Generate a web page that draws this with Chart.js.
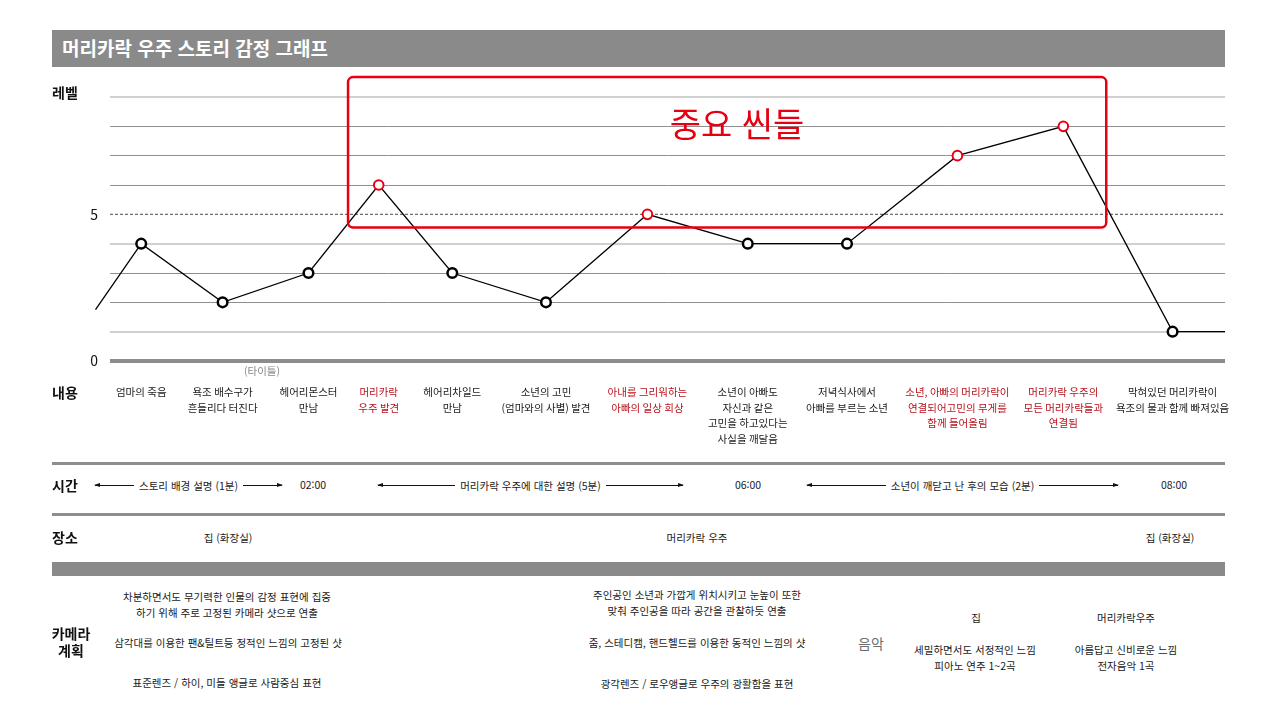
<!DOCTYPE html>
<html lang="ko">
<head>
<meta charset="utf-8">
<title>머리카락 우주 스토리 감정 그래프</title>
<script src="https://cdn.jsdelivr.net/npm/chart.js@4/dist/chart.umd.min.js"></script>
<style>
  html, body { margin: 0; padding: 0; background: #fff; }
  body { width: 1280px; height: 720px; position: relative; overflow: hidden;
         font-family: 'Noto Sans CJK KR', 'Noto Sans', sans-serif; color: #1a1a1a; }
  #chart { position: absolute; left: 0; top: 0; }
  .bar { position: absolute; left: 52px; width: 1173px; background: #8a8a8a; }
  .sep { position: absolute; left: 52px; width: 1173px; height: 3px; background: #8e8e8e; }
  .t { position: absolute; white-space: nowrap; font-size: 10.5px; line-height: 16px; }
  .c { transform: translate(-50%, -50%); text-align: center; }
  .l { transform: translateY(-50%); }
  .head { font-size: 14px; font-weight: bold; color: #111; line-height: 17px; }
  .span { position: absolute; height: 16px; display: flex; align-items: center; transform: translateY(-50%);
          font-size: 10.5px; white-space: nowrap; }
  .span .ln { flex: 1; height: 1px; background: #111; position: relative; }
  .span .ln.a::before { content: ''; position: absolute; left: -1px; top: -2px;
          border-right: 6px solid #111; border-top: 2.5px solid transparent; border-bottom: 2.5px solid transparent; }
  .span .ln.b::after { content: ''; position: absolute; right: -1px; top: -2px;
          border-left: 6px solid #111; border-top: 2.5px solid transparent; border-bottom: 2.5px solid transparent; }
  .span .tx { padding: 0 5px; }
</style>
</head>
<body>

<div class="bar" style="top:30px;height:37px;"></div>
<div class="t" style="left:62px;top:30px;line-height:36px;font-size:19px;font-weight:bold;color:#fff;">머리카락 우주 스토리 감정 그래프</div>

<canvas id="chart" width="1280" height="470"></canvas>

<div class="t l head" style="left:52px;top:92px;">레벨</div>
<div class="t c" style="left:737px;top:123px;font-size:34px;line-height:40px;color:#e60012;">중요 씬들</div>
<div class="t c" style="left:262px;top:371px;color:#888;">(타이틀)</div>

<div class="t l head" style="left:52px;top:392px;">내용</div>
<div class="sep" style="top:462px;"></div>

<div class="t l head" style="left:52px;top:485px;">시간</div>
<div class="span" style="left:95px;width:187px;top:485px;"><span class="ln a"></span><span class="tx">스토리 배경 설명 (1분)</span><span class="ln b"></span></div>
<div class="t c" style="left:313px;top:485px;">02:00</div>
<div class="span" style="left:378px;width:305px;top:485px;"><span class="ln a"></span><span class="tx">머리카락 우주에 대한 설명 (5분)</span><span class="ln b"></span></div>
<div class="t c" style="left:748px;top:485px;">06:00</div>
<div class="span" style="left:807px;width:311px;top:485px;"><span class="ln a"></span><span class="tx">소년이 깨닫고 난 후의 모습 (2분)</span><span class="ln b"></span></div>
<div class="t c" style="left:1174px;top:485px;">08:00</div>
<div class="sep" style="top:513px;"></div>

<div class="t l head" style="left:52px;top:537px;">장소</div>
<div class="t c" style="left:228px;top:538px;">집 (화장실)</div>
<div class="t c" style="left:697px;top:538px;">머리카락 우주</div>
<div class="t c" style="left:1170px;top:538px;">집 (화장실)</div>

<div class="bar" style="top:562px;height:14px;"></div>

<div class="t c head" style="left:71px;top:642px;line-height:17px;">카메라<br>계획</div>

<div class="t c" style="left:227px;top:605px;">차분하면서도 무기력한 인물의 감정 표현에 집중<br>하기 위해 주로 고정된 카메라 샷으로 연출</div>
<div class="t c" style="left:228px;top:643px;">삼각대를 이용한 팬&amp;틸트등 정적인 느낌의 고정된 샷</div>
<div class="t c" style="left:227px;top:683px;">표준렌즈 / 하이, 미들 앵글로 사람중심 표현</div>

<div class="t c" style="left:697px;top:603px;">주인공인 소년과 가깝게 위치시키고 눈높이 또한<br>맞춰 주인공을 따라 공간을 관찰하듯 연출</div>
<div class="t c" style="left:697px;top:643px;">줌, 스테디캠, 핸드헬드를 이용한 동적인 느낌의 샷</div>
<div class="t c" style="left:697px;top:684px;">광각렌즈 / 로우앵글로 우주의 광활함을 표현</div>

<div class="t c" style="left:871px;top:643px;font-size:14px;color:#6e6e6e;">음악</div>
<div class="t c" style="left:976px;top:618px;">집</div>
<div class="t c" style="left:975px;top:658px;">세밀하면서도 서정적인 느낌<br>피아노 연주 1~2곡</div>
<div class="t c" style="left:1126px;top:618px;">머리카락우주</div>
<div class="t c" style="left:1126px;top:658px;">아름답고 신비로운 느낌<br>전자음악 1곡</div>

<script>
// story progress (0~100) of each scene, lead-in and tail included
var sceneX = [-1.3, 2.8, 10.1, 17.8, 24.1, 30.7, 39.1, 48.2, 57.2, 66.1, 76.0, 85.5, 95.3, 100];
// emotion level of each scene
var levels = [1.75, 4, 2, 3, 6, 3, 2, 5, 4, 4, 7, 8, 1, 1];
// important scenes (red)
var keyScene = [false, false, false, false, true, false, false, true, false, false, true, true, false, false];
// real scenes have a marker, lead-in / tail do not
var hasMarker = [false, true, true, true, true, true, true, true, true, true, true, true, true, false];

var contentLabels = [
	["엄마의 죽음"],
	["욕조 배수구가", "흔들리다 터진다"],
	["헤어리몬스터", "만남"],
	["머리카락", "우주 발견"],
	["헤어리차일드", "만남"],
	["소년의 고민", "(엄마와의 사별) 발견"],
	["아내를 그리워하는", "아빠의 일상 회상"],
	["소년이 아빠도", "자신과 같은", "고민을 하고있다는", "사실을 깨달음"],
	["저녁식사에서", "아빠를 부르는 소년"],
	["소년, 아빠의 머리카락이", "연결되어고민의 무게를", "함께 들어올림"],
	["머리카락 우주의", "모든 머리카락들과", "연결됨"],
	["막혀있던 머리카락이", "욕조의 물과 함께 빠져있음"]
];

var yTicks = [0, 1, 2, 3, 4, 5, 6, 7, 8, 9];
var yLabels = {0: "0", 5: "5"};
var midLevel = 5;

// the red "important scenes" frame, in data units
var highlightX = [21.35, 89.35];
var highlightY = [4.55, 9.68];

var RED = '#e60012';
var LABEL_RED = '#b8121c';

Chart.defaults.font.family = "'Noto Sans CJK KR', 'Noto Sans', sans-serif";

var lightLevels = [9, 4, 1];

var guidePlugin = {
	id: 'guides',
	beforeDatasetsDraw: function(chart)
	{
		//dashed line at the middle level
		var ctx = chart.ctx, area = chart.chartArea;
		var y = chart.scales.y.getPixelForValue(midLevel);
		ctx.save();
		ctx.strokeStyle = '#6e6e6e';
		ctx.lineWidth = 1.2;
		ctx.setLineDash([3, 2]);
		ctx.beginPath();
		ctx.moveTo(area.left, y);
		ctx.lineTo(area.right, y);
		ctx.stroke();
		ctx.restore();
	},
	afterDatasetsDraw: function(chart)
	{
		//red frame round the important scenes
		var ctx = chart.ctx;
		var x0 = chart.scales.x.getPixelForValue(highlightX[0]);
		var x1 = chart.scales.x.getPixelForValue(highlightX[1]);
		var y0 = chart.scales.y.getPixelForValue(highlightY[1]);
		var y1 = chart.scales.y.getPixelForValue(highlightY[0]);
		ctx.save();
		ctx.strokeStyle = RED;
		ctx.lineWidth = 2.5;
		ctx.beginPath();
		if (ctx.roundRect) ctx.roundRect(x0, y0, x1 - x0, y1 - y0, 5);
		else ctx.rect(x0, y0, x1 - x0, y1 - y0);
		ctx.stroke();
		ctx.restore();
	}
};

var points = sceneX.map(function(x, i) { return {x: x, y: levels[i]}; });

new Chart(document.getElementById('chart').getContext('2d'), {
	type: 'line',
	data: {
		datasets: [{
			data: points,
			borderColor: '#000',
			borderWidth: 1.3,
			tension: 0,
			clip: false,
			pointRadius: hasMarker.map(function(m) { return m ? 4.8 : 0; }),
			pointHoverRadius: hasMarker.map(function(m) { return m ? 4.8 : 0; }),
			pointBorderWidth: keyScene.map(function(k) { return k ? 2 : 2.5; }),
			pointBorderColor: keyScene.map(function(k) { return k ? RED : '#000'; }),
			pointBackgroundColor: '#fff'
		}]
	},
	options: {
		responsive: false,
		animation: false,
		layout: { padding: { top: 97, right: 55, left: 0, bottom: 0 } },
		plugins: { legend: { display: false }, tooltip: { enabled: false } },
		scales: {
			x: {
				type: 'linear',
				min: 0,
				max: 100,
				grid: { display: false },
				border: { display: false },
				afterBuildTicks: function(scale)
				{
					scale.ticks = sceneX.slice(1, 13).map(function(v) { return {value: v}; });
				},
				afterFit: function(scale)
				{
					scale.height = 109;
					scale.paddingLeft = 0;
					scale.paddingRight = 0;
				},
				ticks: {
					autoSkip: false,
					maxRotation: 0,
					minRotation: 0,
					padding: 15,
					font: { size: 10.5, lineHeight: 1.5 },
					color: function(c) { return keyScene[c.index + 1] ? LABEL_RED : '#1a1a1a'; },
					callback: function(value, index) { return contentLabels[index]; }
				}
			},
			y: {
				min: 0,
				max: 9,
				border: { display: false },
				afterBuildTicks: function(scale)
				{
					scale.ticks = yTicks.map(function(v) { return {value: v}; });
				},
				afterFit: function(scale)
				{
					scale.width = 110;
					scale.paddingTop = 0;
					scale.paddingBottom = 0;
				},
				grid: {
					drawTicks: false,
					color: function(c)
					{
						var v = c.tick.value;
						if (v === 0) return '#8c8c8c';
						if (v === midLevel) return 'rgba(0,0,0,0)';
						return lightLevels.indexOf(v) >= 0 ? '#d0d0d0' : '#8f8f8f';
					},
					lineWidth: function(c)
					{
						var v = c.tick.value;
						if (v === 0) return 4;
						return lightLevels.indexOf(v) >= 0 ? 2 : 1;
					}
				},
				ticks: {
					padding: 12,
					font: { size: 14 },
					color: '#111',
					callback: function(value) { return yLabels[value] || ''; }
				}
			}
		}
	},
	plugins: [guidePlugin]
});
</script>
</body>
</html>
